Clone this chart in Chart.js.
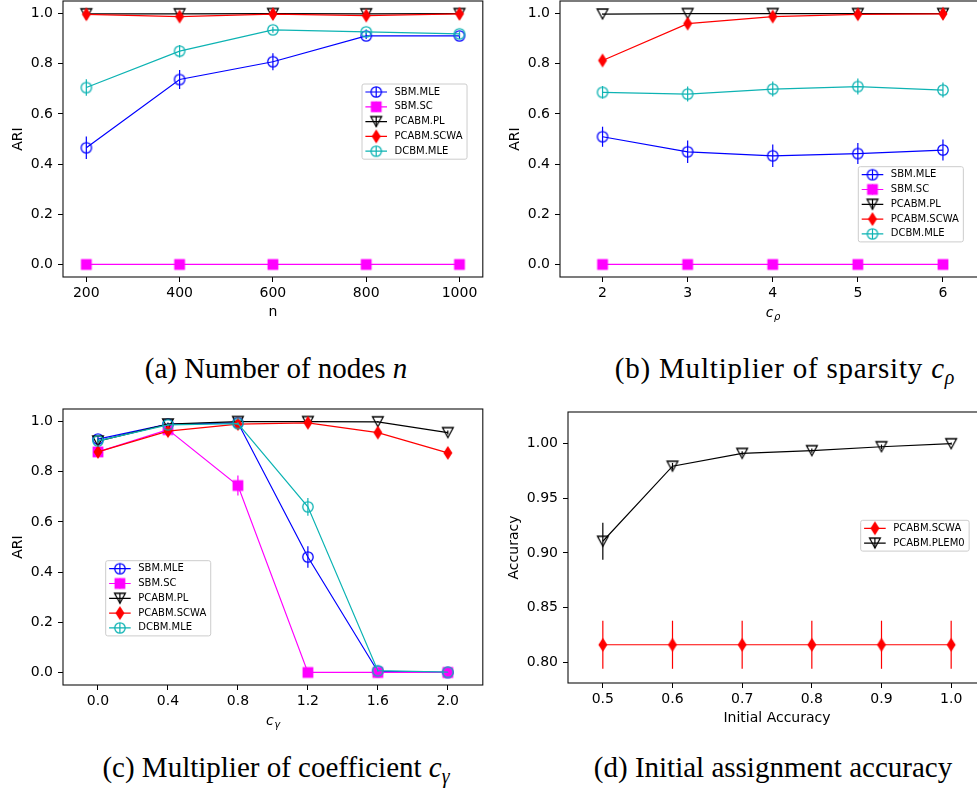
<!DOCTYPE html>
<html>
<head>
<meta charset="utf-8">
<script src="https://cdn.jsdelivr.net/npm/chart.js@4.4.0/dist/chart.umd.min.js"></script>
<style>
  html, body { margin: 0; padding: 0; background: #fff; }
  body { width: 977px; height: 803px; position: relative; overflow: hidden; }
  canvas { position: absolute; }
  .legenda-fig { position: absolute; font-family: "Liberation Serif", "Times New Roman", serif; font-size: 29px; line-height: 1; color: #000; white-space: nowrap; transform: translateX(-50%); }
  .legenda-fig sub { font-size: 20px; line-height: 0; vertical-align: -6px; }
</style>
</head>
<body>
<div class="legenda-fig" style="left:276px; top:354px;">(a) Number of nodes <i>n</i></div>
<div class="legenda-fig" style="left:785px; top:354px; letter-spacing:0.8px;">(b) Multiplier of sparsity <i>c</i><sub><i>ρ</i></sub></div>
<div class="legenda-fig" style="left:276px; top:753px;">(c) Multiplier of coefficient <i>c</i><sub><i>γ</i></sub></div>
<div class="legenda-fig" style="left:773px; top:753px;">(d) Initial assignment accuracy</div>
<script>
// Valores
const nosN = [200, 400, 600, 800, 1000];
const cRho = [2, 3, 4, 5, 6];
const cGamma = [0.0, 0.4, 0.8, 1.2, 1.6, 2.0];
const acuraciaInicial = [0.5, 0.6, 0.7, 0.8, 0.9, 1.0];

// Rótulos dos eixos
const ticksARI = [0.0, 0.2, 0.4, 0.6, 0.8, 1.0];
const ticksAcuracia = [0.80, 0.85, 0.90, 0.95, 1.00];

// (a) número de nós
const sbmMleA = [0.465, 0.737, 0.808, 0.911, 0.911];
const sbmMleErroA = [0.045, 0.038, 0.034, 0.012, 0.012];
const sbmScA = [0, 0, 0, 0, 0];
const sbmScErroA = [0, 0, 0, 0, 0];
const pcabmPlA = [0.999, 0.999, 1.0, 0.999, 1.0];
const pcabmPlErroA = [0.002, 0.002, 0.001, 0.002, 0.001];
const pcabmScwaA = [0.997, 0.988, 0.998, 0.992, 0.999];
const pcabmScwaErroA = [0.01, 0.012, 0.008, 0.01, 0.005];
const dcbmMleA = [0.705, 0.850, 0.935, 0.927, 0.919];
const dcbmMleErroA = [0.033, 0.025, 0.012, 0.01, 0.01];

// (b) multiplicador de esparsidade
const sbmMleB = [0.509, 0.449, 0.433, 0.442, 0.456];
const sbmMleErroB = [0.04, 0.045, 0.045, 0.042, 0.042];
const sbmScB = [0, 0, 0, 0, 0];
const sbmScErroB = [0, 0, 0, 0, 0];
const pcabmPlB = [0.998, 1.0, 1.0, 1.0, 1.0];
const pcabmPlErroB = [0.002, 0.001, 0.001, 0.001, 0.001];
const pcabmScwaB = [0.813, 0.960, 0.988, 0.997, 0.999];
const pcabmScwaErroB = [0.015, 0.015, 0.012, 0.008, 0.005];
const dcbmMleB = [0.686, 0.679, 0.699, 0.709, 0.695];
const dcbmMleErroB = [0.025, 0.03, 0.03, 0.032, 0.03];

// (c) multiplicador do coeficiente
const sbmMleC = [0.930, 0.990, 0.995, 0.460, 0.004, 0.0];
const sbmMleErroC = [0.01, 0.005, 0.005, 0.043, 0.003, 0];
const sbmScC = [0.879, 0.968, 0.745, 0.0, 0.0, 0.0];
const sbmScErroC = [0.015, 0.01, 0.04, 0, 0, 0];
const pcabmPlC = [0.922, 0.990, 1.0, 1.0, 0.999, 0.956];
const pcabmPlErroC = [0.01, 0.005, 0.002, 0.002, 0.003, 0.008];
const pcabmScwaC = [0.879, 0.962, 0.990, 0.995, 0.956, 0.875];
const pcabmScwaErroC = [0.02, 0.015, 0.01, 0.01, 0.012, 0.015];
const dcbmMleC = [0.923, 0.987, 0.992, 0.660, 0.007, 0.001];
const dcbmMleErroC = [0.01, 0.005, 0.005, 0.035, 0.004, 0.001];

// (d) acurácia inicial
const pcabmScwaD = [0.816, 0.816, 0.816, 0.816, 0.816, 0.816];
const pcabmScwaErroD = [0.022, 0.022, 0.022, 0.022, 0.022, 0.022];
const pcabmPlem0D = [0.9107, 0.9794, 0.9911, 0.9936, 0.9972, 1.0];
const pcabmPlem0ErroD = [0.017, 0.003, 0.002, 0.002, 0.002, 0.001];

Chart.defaults.font.family = 'DejaVu Sans';
Chart.defaults.color = '#000';

// Cria os marcadores no estilo do matplotlib
function criarMarcador(tipo, cor) {
    var c = document.createElement('canvas');
    c.width = 16; c.height = 16;
    var g = c.getContext('2d');
    g.strokeStyle = cor;
    g.fillStyle = cor;
    g.lineWidth = 1.3;
    if (tipo === 'circulo') {
        g.beginPath(); g.arc(8, 8, 5.2, 0, Math.PI * 2); g.stroke();
    } else if (tipo === 'quadrado') {
        g.fillRect(2.6, 2.6, 10.8, 10.8);
    } else if (tipo === 'triangulo') {
        g.beginPath(); g.moveTo(2.6, 3); g.lineTo(13.4, 3); g.lineTo(8, 13); g.closePath(); g.stroke();
    } else if (tipo === 'losango') {
        g.beginPath(); g.moveTo(8, 1); g.lineTo(12.5, 8); g.lineTo(8, 15); g.lineTo(3.5, 8); g.closePath(); g.fill();
    }
    return c;
}

var azul = '#0000ff', magenta = '#ff00ff', preto = '#000000', vermelho = '#ff0000', ciano = '#0db3b3';

function serie(rotulo, xs, ys, erros, cor, tipo) {
    return {
        label: rotulo,
        data: xs.map((x, i) => ({ x: x, y: ys[i] })),
        erros: erros,
        borderColor: cor,
        backgroundColor: cor,
        borderWidth: 1.2,
        pointStyle: criarMarcador(tipo, cor),
        pointRadius: 6,
        pointHoverRadius: 6,
        tension: 0,
        fill: false
    };
}

// Barras de erro verticais desenhadas com as escalas do gráfico
const pluginErros = {
    id: 'barrasErro',
    beforeDatasetDraw(chart, args) {
        var ds = chart.data.datasets[args.index];
        if (!ds.erros) return;
        var ctx = chart.ctx, sx = chart.scales.x, sy = chart.scales.y;
        ctx.save();
        ctx.strokeStyle = ds.borderColor;
        ctx.lineWidth = 1.2;
        ds.data.forEach((p, i) => {
            var e = ds.erros[i];
            if (!e) return;
            var px = sx.getPixelForValue(p.x);
            ctx.beginPath();
            ctx.moveTo(px, sy.getPixelForValue(p.y - e));
            ctx.lineTo(px, sy.getPixelForValue(p.y + e));
            ctx.stroke();
        });
        ctx.restore();
    }
};

// Moldura completa da área do gráfico
const pluginMoldura = {
    id: 'moldura',
    afterDatasetsDraw(chart) {
        var a = chart.chartArea, ctx = chart.ctx;
        ctx.save();
        ctx.strokeStyle = '#111';
        ctx.lineWidth = 1.1;
        ctx.strokeRect(a.left, a.top, a.right - a.left, a.bottom - a.top);
        ctx.restore();
    }
};

// Legenda no estilo do matplotlib (linha + marcador + barra de erro)
const pluginLegenda = {
    id: 'legendaMpl',
    afterDraw(chart, args, op) {
        if (!op || op.x === undefined) return;
        var ctx = chart.ctx, ds = chart.data.datasets;
        ctx.save();
        ctx.font = '10px "DejaVu Sans"';
        var maxTxt = 0;
        ds.forEach(d => { maxTxt = Math.max(maxTxt, ctx.measureText(d.label).width); });
        var w = 32.5 + maxTxt + 4.5;
        var h = 16 + 14.8 * (ds.length - 1);
        ctx.beginPath();
        ctx.roundRect(op.x, op.y, w, h, 2);
        ctx.fillStyle = 'rgba(255,255,255,0.8)';
        ctx.fill();
        ctx.strokeStyle = '#cccccc';
        ctx.lineWidth = 1;
        ctx.stroke();
        ds.forEach((d, i) => {
            var cy = op.y + 8 + 14.8 * i;
            var mx = op.x + 14.2;
            ctx.strokeStyle = d.borderColor;
            ctx.lineWidth = 1.2;
            ctx.beginPath();
            ctx.moveTo(op.x + 3.4, cy); ctx.lineTo(op.x + 25, cy);
            ctx.moveTo(mx, cy - 5); ctx.lineTo(mx, cy + 5);
            ctx.stroke();
            ctx.drawImage(d.pointStyle, mx - 8, cy - 8);
            ctx.fillStyle = '#000';
            ctx.textBaseline = 'middle';
            ctx.textAlign = 'left';
            ctx.fillText(d.label, op.x + 32.5, cy);
        });
        ctx.restore();
    }
};

// Título do eixo x com subscrito (c_rho, c_gamma)
const pluginTituloMat = {
    id: 'tituloMat',
    afterDraw(chart, args, op) {
        if (!op || !op.base) return;
        var ctx = chart.ctx, a = chart.chartArea;
        ctx.save();
        ctx.fillStyle = '#000';
        ctx.textBaseline = 'alphabetic';
        ctx.textAlign = 'left';
        ctx.font = 'italic 14px "DejaVu Sans"';
        var wb = ctx.measureText(op.base).width;
        ctx.font = 'italic 10px "DejaVu Sans"';
        var ws = ctx.measureText(op.sub).width;
        var x0 = (a.left + a.right) / 2 - (wb + ws) / 2;
        var yb = a.bottom + 39.5;
        ctx.font = 'italic 14px "DejaVu Sans"';
        ctx.fillText(op.base, x0, yb);
        ctx.font = 'italic 10px "DejaVu Sans"';
        ctx.fillText(op.sub, x0 + wb + 0.5, yb + 3.5);
        ctx.restore();
    }
};

function criarGrafico(cfg) {
    var cx = cfg.caixa, ar = cfg.area;
    var cv = document.createElement('canvas');
    cv.width = cx.w; cv.height = cx.h;
    cv.style.left = cx.left + 'px';
    cv.style.top = cx.top + 'px';
    cv.style.width = cx.w + 'px';
    cv.style.height = cx.h + 'px';
    document.body.appendChild(cv);

    var largY = ar.left - cx.left;
    var altX = cx.top + cx.h - ar.bottom;
    var padTitX = (cx.top + cx.h) - 8.4 - (ar.bottom + 35.8);

    cfg.series.forEach((s, i) => { s.order = cfg.series.length - i; });

    new Chart(cv.getContext('2d'), {
        type: 'line',
        data: { datasets: cfg.series },
        options: {
            responsive: false,
            animation: false,
            events: [],
            layout: { padding: { left: 0, top: ar.top - cx.top, right: cx.left + cx.w - ar.right, bottom: 0 } },
            plugins: {
                legend: { display: false },
                tooltip: { enabled: false },
                legendaMpl: { x: cfg.legenda.x - cx.left, y: cfg.legenda.y - cx.top },
                tituloMat: cfg.tituloMat || {}
            },
            scales: {
                x: {
                    type: 'linear',
                    min: cfg.xMin, max: cfg.xMax,
                    afterBuildTicks: s => { s.ticks = cfg.xTicks.map(v => ({ value: v })); },
                    afterFit: s => { s.height = altX; s.paddingLeft = 0; s.paddingRight = 0; },
                    ticks: { autoSkip: false, maxRotation: 0, padding: 3, font: { size: 14 }, color: '#000', callback: cfg.xFmt },
                    grid: { drawOnChartArea: false, drawTicks: true, tickLength: 5, color: '#000', lineWidth: 1 },
                    border: { display: false },
                    title: { display: !!cfg.xTitulo, text: cfg.xTitulo || '', font: { size: 14 }, color: '#000', padding: { top: 0, bottom: padTitX } }
                },
                y: {
                    type: 'linear',
                    min: cfg.yMin, max: cfg.yMax,
                    afterBuildTicks: s => { s.ticks = cfg.yTicks.map(v => ({ value: v })); },
                    afterFit: s => { s.width = largY; s.paddingTop = 0; s.paddingBottom = 0; },
                    ticks: { autoSkip: false, padding: 5, font: { size: 14 }, color: '#000', callback: cfg.yFmt },
                    grid: { drawOnChartArea: false, drawTicks: true, tickLength: 5, color: '#000', lineWidth: 1 },
                    border: { display: false },
                    title: { display: true, text: cfg.yTitulo, font: { size: 14 }, color: '#000', padding: { top: cfg.yTitPad, bottom: 0 } }
                }
            }
        },
        plugins: [pluginErros, pluginMoldura, pluginLegenda, pluginTituloMat]
    });
}

var fmt1 = v => Number(v).toFixed(1);
var fmt2 = v => Number(v).toFixed(2);
var fmt0 = v => String(v);

// (a)
criarGrafico({
    caixa: { left: 0, top: -10, w: 490, h: 340 },
    area: { left: 63, top: 1, right: 489, bottom: 277 },
    legenda: { x: 362, y: 84 },
    xMin: 150, xMax: 1050, xTicks: nosN, xFmt: fmt0, xTitulo: 'n',
    yMin: -0.05, yMax: 1.05, yTicks: ticksARI, yFmt: fmt1, yTitulo: 'ARI', yTitPad: 10,
    series: [
        serie('SBM.MLE', nosN, sbmMleA, sbmMleErroA, azul, 'circulo'),
        serie('SBM.SC', nosN, sbmScA, sbmScErroA, magenta, 'quadrado'),
        serie('PCABM.PL', nosN, pcabmPlA, pcabmPlErroA, preto, 'triangulo'),
        serie('PCABM.SCWA', nosN, pcabmScwaA, pcabmScwaErroA, vermelho, 'losango'),
        serie('DCBM.MLE', nosN, dcbmMleA, dcbmMleErroA, ciano, 'circulo')
    ]
});

// (b)
criarGrafico({
    caixa: { left: 490, top: -10, w: 510, h: 340 },
    area: { left: 560, top: 1, right: 985.5, bottom: 277 },
    legenda: { x: 858.3, y: 166.7 },
    xMin: 1.5, xMax: 6.5, xTicks: cRho, xFmt: fmt0,
    tituloMat: { base: 'c', sub: 'ρ' },
    yMin: -0.05, yMax: 1.05, yTicks: ticksARI, yFmt: fmt1, yTitulo: 'ARI', yTitPad: 16.8,
    series: [
        serie('SBM.MLE', cRho, sbmMleB, sbmMleErroB, azul, 'circulo'),
        serie('SBM.SC', cRho, sbmScB, sbmScErroB, magenta, 'quadrado'),
        serie('PCABM.PL', cRho, pcabmPlB, pcabmPlErroB, preto, 'triangulo'),
        serie('PCABM.SCWA', cRho, pcabmScwaB, pcabmScwaErroB, vermelho, 'losango'),
        serie('DCBM.MLE', cRho, dcbmMleB, dcbmMleErroB, ciano, 'circulo')
    ]
});

// (c)
criarGrafico({
    caixa: { left: 0, top: 390, w: 490, h: 350 },
    area: { left: 63, top: 409, right: 489, bottom: 685 },
    legenda: { x: 105.7, y: 560.7 },
    xMin: -0.2, xMax: 2.2, xTicks: cGamma, xFmt: fmt1,
    tituloMat: { base: 'c', sub: 'γ' },
    yMin: -0.05, yMax: 1.05, yTicks: ticksARI, yFmt: fmt1, yTitulo: 'ARI', yTitPad: 9.7,
    series: [
        serie('SBM.MLE', cGamma, sbmMleC, sbmMleErroC, azul, 'circulo'),
        serie('SBM.SC', cGamma, sbmScC, sbmScErroC, magenta, 'quadrado'),
        serie('PCABM.PL', cGamma, pcabmPlC, pcabmPlErroC, preto, 'triangulo'),
        serie('PCABM.SCWA', cGamma, pcabmScwaC, pcabmScwaErroC, vermelho, 'losango'),
        serie('DCBM.MLE', cGamma, dcbmMleC, dcbmMleErroC, ciano, 'circulo')
    ]
});

// (d)
criarGrafico({
    caixa: { left: 490, top: 390, w: 510, h: 350 },
    area: { left: 568, top: 412, right: 986, bottom: 683 },
    legenda: { x: 860.7, y: 520.3 },
    xMin: 0.45, xMax: 1.05, xTicks: acuraciaInicial, xFmt: fmt1, xTitulo: 'Initial Accuracy',
    yMin: 0.781, yMax: 1.029, yTicks: ticksAcuracia, yFmt: fmt2, yTitulo: 'Accuracy', yTitPad: 16,
    series: [
        serie('PCABM.SCWA', acuraciaInicial, pcabmScwaD, pcabmScwaErroD, vermelho, 'losango'),
        serie('PCABM.PLEM0', acuraciaInicial, pcabmPlem0D, pcabmPlem0ErroD, preto, 'triangulo')
    ]
});
</script>
</body>
</html>
